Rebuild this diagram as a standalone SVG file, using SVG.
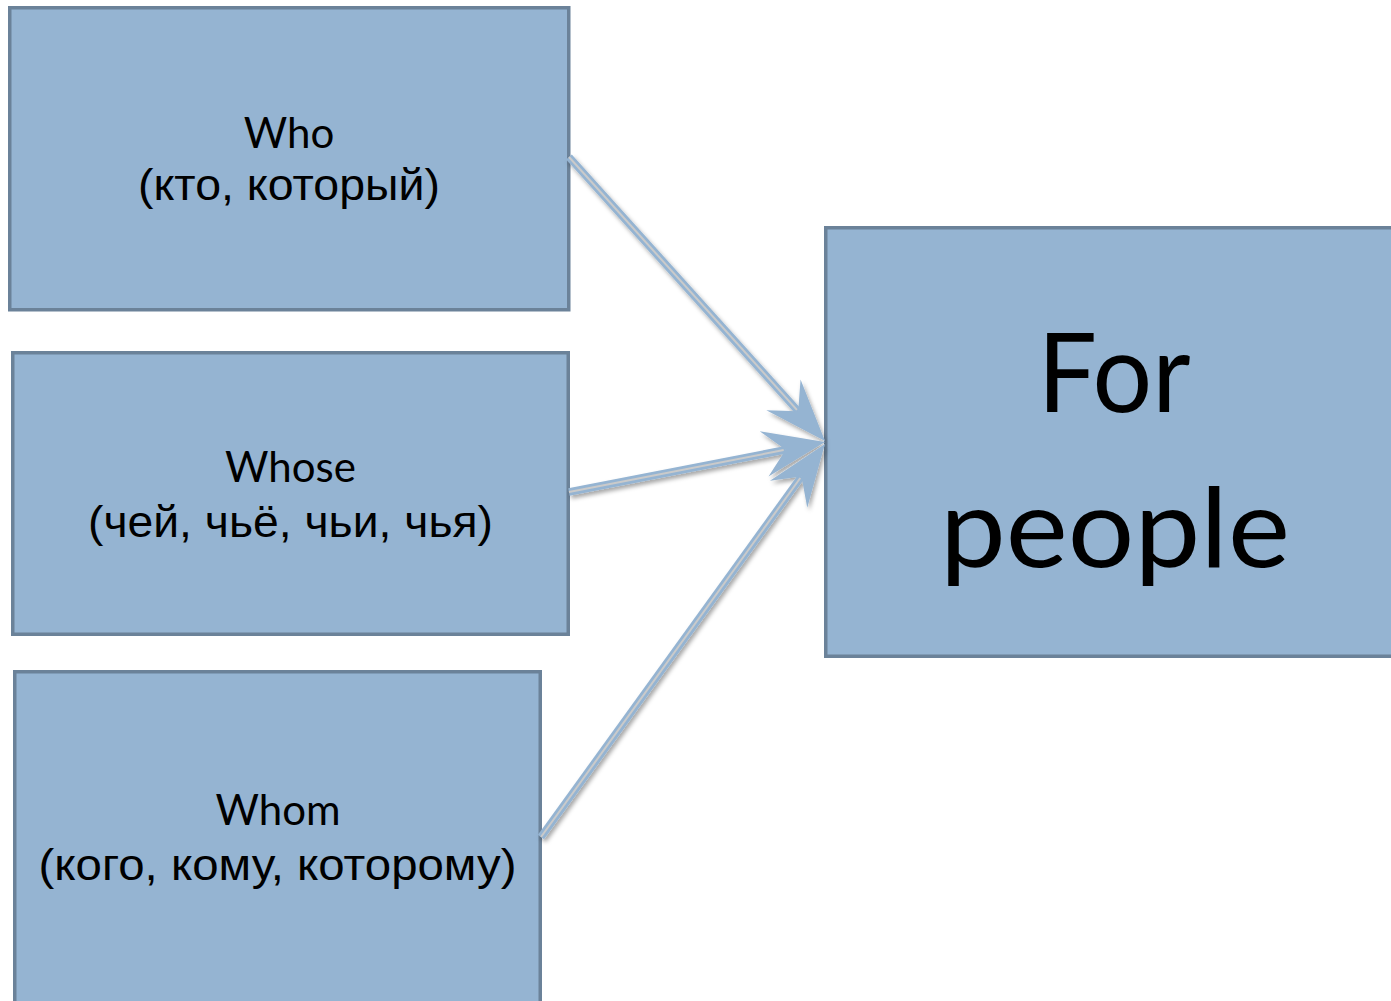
<svg xmlns="http://www.w3.org/2000/svg" width="1391" height="1001" viewBox="0 0 1391 1001">
  <style>
    .box { fill: #95b4d2; stroke: #6b8299; stroke-width: 3.5; }
    .en { font-family: Lato, "Open Sans", "Liberation Sans", sans-serif; fill: #000; text-anchor: middle; }
    .ru { font-family: "Liberation Sans", Arial, sans-serif; font-size: 44px; fill: #000; text-anchor: middle; }
    .small { font-size: 42px; }
    .big { font-size: 110px; }
    .wire { fill: none; stroke: #95b4d2; stroke-width: 7.5; }
    .core { fill: none; stroke: #cacaca; stroke-width: 2; }
  </style>
  <defs>
    <filter id="shadow" x="-20%" y="-20%" width="140%" height="140%">
      <feDropShadow dx="2" dy="3" stdDeviation="2" flood-color="#000" flood-opacity="0.35"/>
    </filter>
    <marker id="stealth" markerUnits="userSpaceOnUse" orient="auto" refX="0" refY="0" markerWidth="80" markerHeight="60" viewBox="-30 -30 80 60" overflow="visible">
      <path d="M40,0 L-22,-23 L0,0 L-22,23 Z" fill="#95b4d2"/>
    </marker>
  </defs>
  <rect width="1391" height="1001" fill="#fff"/>

  <g id="node-who">
    <rect class="box" x="9.75" y="7.75" width="559" height="302"/>
    <text class="en small" x="289" y="148">Who</text>
    <text class="ru" x="289" y="200" textLength="302" lengthAdjust="spacingAndGlyphs">(кто, который)</text>
  </g>
  <g id="node-whose">
    <rect class="box" x="12.75" y="352.75" width="555.5" height="281.5"/>
    <text class="en small" x="290.5" y="482">Whose</text>
    <text class="ru" x="290.5" y="537" textLength="405" lengthAdjust="spacingAndGlyphs">(чей, чьё, чьи, чья)</text>
  </g>
  <g id="node-whom">
    <rect class="box" x="14.75" y="671.75" width="525.5" height="340"/>
    <text class="en small" x="278" y="825">Whom</text>
    <text class="ru" x="277.5" y="880" textLength="478" lengthAdjust="spacingAndGlyphs">(кого, кому, которому)</text>
  </g>
  <g id="node-for-people">
    <rect class="box" x="825.75" y="227.75" width="580" height="428.5"/>
    <text class="en big" x="1114" y="412" textLength="153" lengthAdjust="spacingAndGlyphs">For</text>
    <text class="en big" x="1115" y="567" textLength="350" lengthAdjust="spacingAndGlyphs">people</text>
  </g>

  <g id="connectors" filter="url(#shadow)">
    <g id="conn-who">
      <path class="wire" d="M569,157 L798.2,411.3" marker-end="url(#stealth)"/>
      <path class="core" d="M569,157 L796.9,409.8"/>
    </g>
    <g id="conn-whose">
      <path class="wire" d="M569,492 L785.7,449.7" marker-end="url(#stealth)"/>
      <path class="core" d="M569,492 L783.7,450.1"/>
    </g>
    <g id="conn-whom">
      <path class="wire" d="M541,837 L801.5,476.4" marker-end="url(#stealth)"/>
      <path class="core" d="M541,837 L800.3,478.0"/>
    </g>
  </g>
</svg>
